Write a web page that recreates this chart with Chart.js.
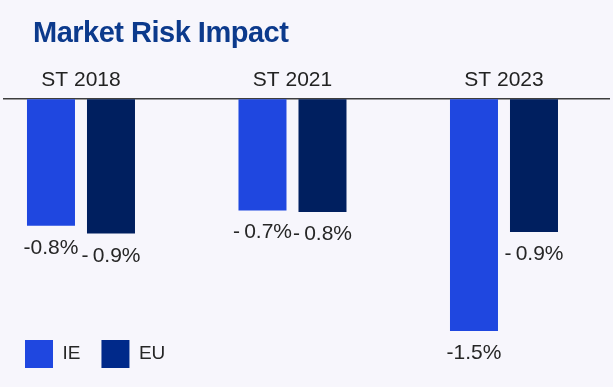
<!DOCTYPE html>
<html>
<head>
<meta charset="utf-8">
<script src="https://cdn.jsdelivr.net/npm/chart.js@4"></script>
<style>
  body { margin: 0; background: #f7f6fc; }
  #wrap { position: relative; width: 613px; height: 387px; }
  #title {
    position: absolute; left: 33px; top: 18px; margin: 0;
    font: bold 29px "Liberation Sans", Arial, sans-serif;
    line-height: 1; letter-spacing: -0.5px; color: #0c3a8c;
  }
  canvas { display: block; }
</style>
</head>
<body>
<div id="wrap">
  <h1 id="title">Market Risk Impact</h1>
  <canvas id="risk-chart" width="613" height="387"></canvas>
</div>
<script>
var categories = ['ST 2018', 'ST 2021', 'ST 2023'];
var ieValues = [-0.82, -0.72, -1.5];
var euValues = [-0.87, -0.73, -0.86];
var ieLabels = ['-0.8%', '-\u20090.7%', '-1.5%'];
var euLabels = ['-\u20090.9%', '-\u20090.8%', '-\u20090.9%'];

var FONT = '"Liberation Sans", Arial, sans-serif';

// writes the percentage under each bar
var valueLabels = {
    id: 'valueLabels',
    afterDatasetsDraw: function (chart) {
        var ctx = chart.ctx;
        var texts = [ieLabels, euLabels];
        ctx.save();
        ctx.font = '21px ' + FONT;
        ctx.fillStyle = '#262626';
        ctx.textAlign = 'center';
        ctx.textBaseline = 'alphabetic';
        chart.data.datasets.forEach(function (ds, i) {
            chart.getDatasetMeta(i).data.forEach(function (bar, j) {
                ctx.fillText(texts[i][j], bar.x, bar.y + 28);
            });
        });
        ctx.restore();
    }
};

function toPoints(values) {
    return values.map(function (v, i) { return { x: i, y: v }; });
}

var ctx = document.getElementById('risk-chart').getContext('2d');
var riskChart = new Chart(ctx, {
    type: 'bar',
    data: {
        datasets: [{
            label: 'IE',
            data: toPoints(ieValues),
            backgroundColor: '#1f47e0',
            categoryPercentage: 0.5674,
            barPercentage: 0.8,
            clip: false
        }, {
            label: 'EU',
            data: toPoints(euValues),
            backgroundColor: '#001f5f',
            categoryPercentage: 0.5674,
            barPercentage: 0.8,
            clip: false
        }]
    },
    options: {
        responsive: false,
        animation: false,
        layout: { padding: { top: 62, left: 4, right: 4, bottom: 9 } },
        scales: {
            x: {
                type: 'linear',
                position: 'top',
                offset: false,
                min: -0.364,
                max: 2.4965,
                grid: { display: false, drawTicks: false },
                border: { display: true, color: '#3d3d3d', width: 1.5 },
                afterBuildTicks: function (scale) {
                    scale.ticks = categories.map(function (c, i) { return { value: i }; });
                },
                ticks: {
                    padding: 6,
                    color: '#222222',
                    font: { family: FONT, size: 21 },
                    maxRotation: 0,
                    autoSkip: false,
                    callback: function (value) { return categories[value]; }
                }
            },
            y: { display: false, min: -1.423, max: 0 }
        },
        plugins: {
            legend: {
                position: 'bottom',
                align: 'start',
                labels: {
                    boxWidth: 28,
                    boxHeight: 28,
                    padding: 21,
                    color: '#262626',
                    font: { family: FONT, size: 19 },
                    generateLabels: function (chart) {
                        var items = Chart.defaults.plugins.legend.labels.generateLabels(chart);
                        var colors = ['#1f47e0', '#00298a'];
                        items.forEach(function (it, i) { it.fillStyle = colors[i]; it.strokeStyle = colors[i]; it.lineWidth = 0; });
                        return items;
                    }
                }
            },
            tooltip: { enabled: false }
        }
    },
    plugins: [valueLabels]
});
</script>
</body>
</html>
